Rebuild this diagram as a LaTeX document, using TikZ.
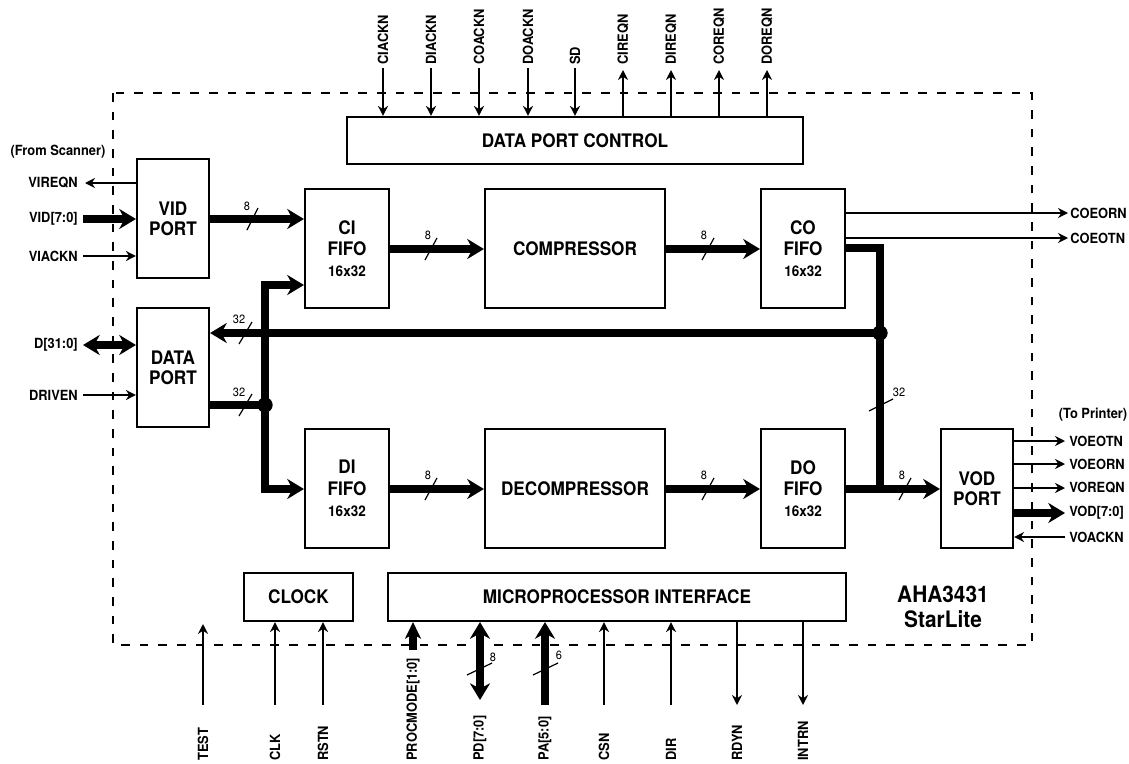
\documentclass[tikz,border=0pt]{standalone}
\usepackage{fontspec}
\setmainfont{TeX Gyre Heros}[FakeStretch=0.92]
\usetikzlibrary{arrows.meta,calc}
\tikzset{
  blk/.style={draw, line width=1.6pt, inner sep=0pt, align=center,
    font=\bfseries\fontsize{14}{15}\selectfont},
  fifo/.style={blk, minimum width=63pt, minimum height=89.25pt,
    font=\bfseries\fontsize{14}{16}\selectfont},
  sig/.style={line width=1.4pt},
  sigarr/.style={sig, -{Stealth[length=7.5pt,width=7.5pt,inset=2.5pt]}},
  bus/.style={line width=6pt},
  bushead/.tip={Stealth[length=12.5pt,width=15pt,inset=4pt]},
  busarr/.style={bus, -bushead},
  lbl/.style={font=\bfseries\fontsize{10.5}{12}\selectfont, inner sep=0pt},
  num/.style={font=\fontsize{9}{10}\selectfont, inner sep=0pt},
  slash/.style={line width=0.9pt},
  jdot/.style={circle, fill, inner sep=0pt, minimum size=11.5pt},
  frame/.style={line width=1.4pt, dash pattern=on 6.5pt off 7.5pt}
}
\begin{document}
\begin{tikzpicture}[x=0.75pt,y=-0.75pt]
\useasboundingbox (0,0) rectangle (1129,764);
% chip outline
\draw[frame] (113,93) rectangle (1032,645);

% blocks
\node[blk, minimum width=342pt, minimum height=35.25pt] (dpc) at (575,140.5) {DATA PORT CONTROL};
\node[blk, minimum width=54pt, minimum height=89.25pt] (vid) at (173,218.5) {VID\\PORT};
\node[blk, minimum width=54pt, minimum height=89.25pt] (dp) at (173,367.5) {DATA\\PORT};
\node[fifo] (ci) at (347,248.5) {CI\\FIFO\\{\fontsize{11}{16}\selectfont 16x32}};
\node[blk, minimum width=135pt, minimum height=89.25pt] (comp) at (575,248.5) {COMPRESSOR};
\node[fifo] (co) at (803,248.5) {CO\\FIFO\\{\fontsize{11}{16}\selectfont 16x32}};
\node[fifo] (di) at (347,488.5) {DI\\FIFO\\{\fontsize{11}{16}\selectfont 16x32}};
\node[blk, minimum width=135pt, minimum height=89.25pt] (decomp) at (575,488.5) {DECOMPRESSOR};
\node[fifo] (do) at (803,488.5) {DO\\FIFO\\{\fontsize{11}{16}\selectfont 16x32}};
\node[blk, minimum width=54pt, minimum height=89.25pt] (vod) at (977,488.5) {VOD\\PORT};
\node[blk, minimum width=81.75pt, minimum height=36pt] (clock) at (298.5,597) {CLOCK};
\node[blk, minimum width=343.5pt, minimum height=36pt] (mpi) at (617,597) {MICROPROCESSOR INTERFACE};
\node[align=center, inner sep=0pt, font=\bfseries\fontsize{17}{19}\selectfont] (title) at (943,607) {AHA3431\\StarLite};

% top signals
\foreach \x/\t/\n in {383/CIACKN/a, 431/DIACKN/b, 479/COACKN/c, 528/DOACKN/d, 575/SD/e}{
  \node[lbl, rotate=90, anchor=west] (top\n) at (\x,65) {\t};
  \coordinate (tc\n) at (\x,68);
  \draw[sigarr] (tc\n) -- (tc\n |- dpc.north);
}
\foreach \x/\t/\n in {623/CIREQN/f, 671/DIREQN/g, 719/COREQN/h, 767/DOREQN/i}{
  \node[lbl, rotate=90, anchor=west] (top\n) at (\x,65) {\t};
  \coordinate (tc\n) at (\x,70);
  \draw[sigarr] (dpc.north -| tc\n) -- (tc\n);
}

% left signals
\node[lbl] (fromsc) at (58,152) {(From Scanner)};
\node[lbl, anchor=east] (lvireqn) at (78,183) {VIREQN};
\node[lbl, anchor=east] (lvid) at (78,219) {VID[7:0]};
\node[lbl, anchor=east] (lviackn) at (78,256) {VIACKN};
\node[lbl, anchor=east] (ld) at (78,345) {D[31:0]};
\node[lbl, anchor=east] (ldriven) at (78,395) {DRIVEN};
\coordinate (cvireqn) at (85,183);
\coordinate (cvid) at (83,219);
\coordinate (cviackn) at (83,256);
\coordinate (cd) at (83,345);
\coordinate (cdriven) at (83,395);
\draw[sigarr] (vid.west |- cvireqn) -- (cvireqn);
\draw[busarr] (cvid) -- (vid.west |- cvid);
\draw[sigarr] (cviackn) -- (vid.west |- cviackn);
\draw[bus, bushead-bushead] (cd) -- (dp.west |- cd);
\draw[sigarr] (cdriven) -- (dp.west |- cdriven);

% right signals
\coordinate (ccoeorn) at (1068,213);
\coordinate (ccoeotn) at (1068,238);
\draw[sigarr] (co.east |- ccoeorn) -- (ccoeorn);
\draw[sigarr] (co.east |- ccoeotn) -- (ccoeotn);
\node[lbl, anchor=west] (lcoeorn) at (1070,213) {COEORN};
\node[lbl, anchor=west] (lcoeotn) at (1070,238) {COEOTN};

\node[lbl] (toprn) at (1093,415) {(To Printer)};
\coordinate (cvoeotn) at (1065,441);
\coordinate (cvoeorn) at (1065,464);
\coordinate (cvoreqn) at (1065,488);
\coordinate (cvod) at (1065,513);
\coordinate (cvoackn) at (1065,537);
\draw[sigarr] (vod.east |- cvoeotn) -- (cvoeotn);
\draw[sigarr] (vod.east |- cvoeorn) -- (cvoeorn);
\draw[sigarr] (vod.east |- cvoreqn) -- (cvoreqn);
\draw[busarr] (vod.east |- cvod) -- (cvod);
\draw[sigarr] (cvoackn) -- (vod.east |- cvoackn);
\node[lbl, anchor=west] (lvoeotn) at (1069,441) {VOEOTN};
\node[lbl, anchor=west] (lvoeorn) at (1069,464) {VOEORN};
\node[lbl, anchor=west] (lvoreqn) at (1069,488) {VOREQN};
\node[lbl, anchor=west] (lvod) at (1069,513) {VOD[7:0]};
\node[lbl, anchor=west] (lvoackn) at (1069,537) {VOACKN};

% bottom signals
\foreach \x/\t/\n in {203/TEST/a, 275/CLK/b, 323/RSTN/c, 413/PROCMODE[1:0]/d, 480/PD[7:0]/e,
  545/PA[5:0]/f, 604/CSN/g, 671/DIR/h, 737/RDYN/i, 803/INTRN/j}{
  \node[lbl, rotate=90, anchor=west] (bot\n) at (\x,761) {\t};
}
\coordinate (btest) at (203,705);
\coordinate (btesttip) at (203,624);
\coordinate (bclk) at (275,705);
\coordinate (brstn) at (323,705);
\coordinate (bproc) at (413,650);
\coordinate (bpd) at (480,700);
\coordinate (bpa) at (545,705);
\coordinate (bcsn) at (604,705);
\coordinate (bdir) at (671,705);
\coordinate (brdyn) at (737,705);
\coordinate (bintrn) at (803,705);
\draw[sigarr] (btest) -- (btesttip);
\draw[sigarr] (bclk) -- (bclk |- clock.south);
\draw[sigarr] (brstn) -- (brstn |- clock.south);
\draw[bus, -{Stealth[length=12.5pt,width=12pt,inset=3.5pt]}] (bproc) -- (bproc |- mpi.south);
\draw[bus, bushead-bushead] (mpi.south -| bpd) -- (bpd);
\draw[busarr] (bpa) -- (bpa |- mpi.south);
\draw[sigarr] (bcsn) -- (bcsn |- mpi.south);
\draw[sigarr] (bdir) -- (bdir |- mpi.south);
\draw[sigarr] (mpi.south -| brdyn) -- (brdyn);
\draw[sigarr] (mpi.south -| bintrn) -- (bintrn);

% internal buses
\coordinate (jl) at (265,405);
\coordinate (jr) at (880,333);
\coordinate (jb) at (880,489);
\draw[busarr] (vid.east |- 0,219) -- (ci.west |- 0,219);
\draw[bus] (dp.east |- jl) -- (jl);
\draw[busarr] (jl) |- (ci.west |- 0,285);
\draw[busarr] (jl) |- (di.west |- 0,489);
\draw[busarr] (jr) -- (dp.east |- jr);
\draw[busarr] (ci.east |- 0,249) -- (comp.west |- 0,249);
\draw[busarr] (comp.east |- 0,249) -- (co.west |- 0,249);
\draw[bus] (co.east |- 0,248) -| (jb);
\draw[busarr] (di.east |- 0,489) -- (decomp.west |- 0,489);
\draw[busarr] (decomp.east |- 0,489) -- (do.west |- 0,489);
\draw[busarr] (do.east |- 0,489) -- (vod.west |- 0,489);
\node[jdot] (dotl) at (jl) {};
\node[jdot] (dotr) at (jr) {};

% bus width marks
\draw[slash] (247,230) -- (258,208);  \node[num] (n1) at (247,206) {8};
\draw[slash] (239,344) -- (252,322);  \node[num] (n2) at (239,319) {32};
\draw[slash] (239,416) -- (252,394);  \node[num] (n3) at (239,392) {32};
\draw[slash] (425,260) -- (437,238);  \node[num] (n4) at (428,235) {8};
\draw[slash] (702,260) -- (714,238);  \node[num] (n5) at (704,235) {8};
\draw[slash] (425,500) -- (437,478);  \node[num] (n6) at (428,475) {8};
\draw[slash] (702,500) -- (714,478);  \node[num] (n7) at (704,475) {8};
\draw[slash] (899,500) -- (911,478);  \node[num] (n8) at (902,475) {8};
\draw[slash] (869,411) -- (893,399);  \node[num] (n9) at (899,392) {32};
\draw[slash] (467,675) -- (492,663);  \node[num] (n10) at (493,657) {8};
\draw[slash] (533,675) -- (558,663);  \node[num] (n11) at (559,655) {6};
\end{tikzpicture}
\end{document}
